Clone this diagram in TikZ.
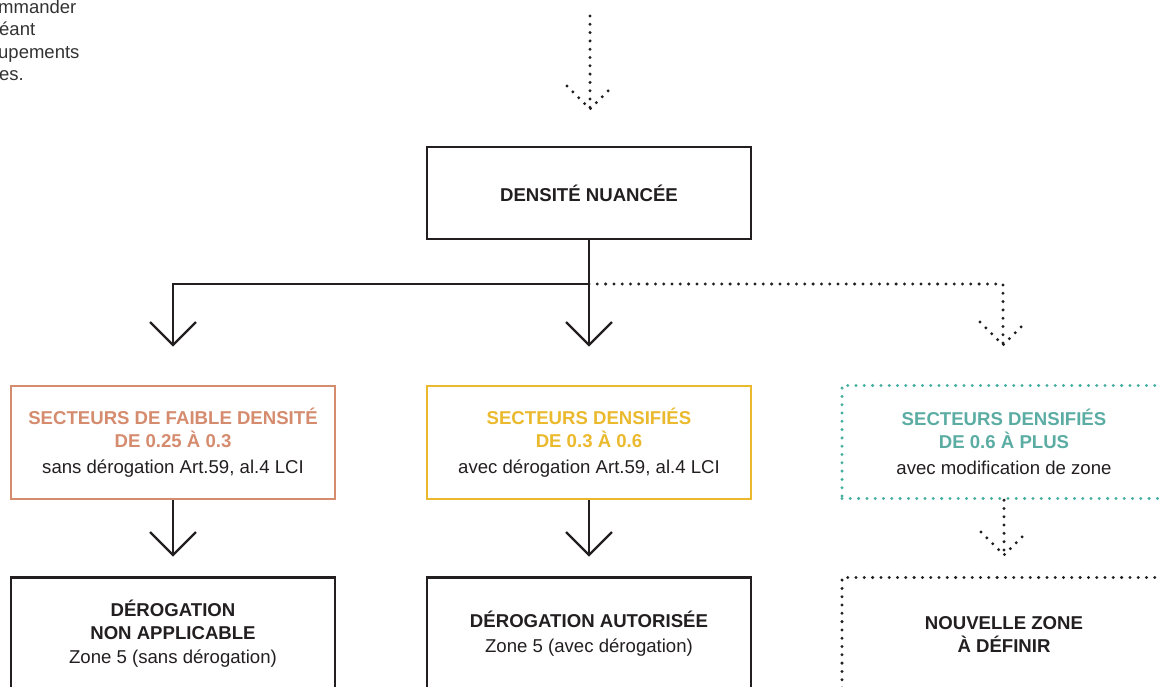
\documentclass[tikz,border=0pt]{standalone}
\usepackage{fontspec}
\setmainfont{Liberation Sans}
\definecolor{ink}{HTML}{231F20}
\definecolor{note}{HTML}{333333}
\definecolor{salmon}{HTML}{D58B6E}
\definecolor{gold}{HTML}{EAB92D}
\definecolor{tealdot}{HTML}{45AE9E}
\definecolor{tealtxt}{HTML}{5BACA3}
\tikzset{
  solidline/.style={draw=ink, line width=2.2pt},
  dotline/.style={draw=ink, line width=3.3pt, line cap=round, dash pattern=on 0pt off 8.3pt},
  box/.style={draw=ink, line width=2.2pt, minimum width=324pt, minimum height=113pt,
    inner sep=0pt, align=center, text=ink, font=\fontsize{18.6}{23}\selectfont},
  notetext/.style={anchor=base west, inner sep=0pt, text=note, font=\fontsize{18.5}{22}\selectfont},
  vhead/.pic={\draw (-23,-23) -- (0,0) -- (23,-23);}
}
\begin{document}
\begin{tikzpicture}[x=1pt,y=-1pt]
\useasboundingbox (0,0) rectangle (1160,686);
\clip (0,0) rectangle (1160,686);

% note text, cut at the left edge
\node[notetext] (n1) at (-2,13) {mmander};
\node[notetext] (n2) at (-1,35.5) {éant};
\node[notetext] (n3) at (-2,58) {upements};
\node[notetext] (n4) at (-1,80.5) {es.};

% boxes
\node[box, minimum height=92pt] (dn) at (589,193) {\textbf{DENSITÉ NUANCÉE}};

\node[box, draw=salmon, line width=2.5pt] (s1) at (173,442.5)
  {\textcolor{salmon}{\textbf{SECTEURS DE FAIBLE DENSITÉ}}\\
   \textcolor{salmon}{\textbf{DE 0.25 À 0.3}}\\[3pt]
   sans dérogation Art.59, al.4 LCI};
\node[box, draw=gold, line width=2.5pt] (s2) at (589,442.5)
  {\textcolor{gold}{\textbf{SECTEURS DENSIFIÉS}}\\
   \textcolor{gold}{\textbf{DE 0.3 À 0.6}}\\[3pt]
   avec dérogation Art.59, al.4 LCI};
\node[box, dotline, draw=tealdot] (s3) at (1004,442)
  {\textcolor{tealtxt}{\textbf{SECTEURS DENSIFIÉS}}\\
   \textcolor{tealtxt}{\textbf{DE 0.6 À PLUS}}\\[3pt]
   avec modification de zone};

\node[box] (r1) at (173,634)
  {\textbf{DÉROGATION}\\ \textbf{NON APPLICABLE}\\[1pt] Zone 5 (sans dérogation)};
\node[box] (r2) at (589,634)
  {\textbf{DÉROGATION AUTORISÉE}\\[2pt] Zone 5 (avec dérogation)};
\node[box, dotline] (r3) at (1004,634)
  {\textbf{NOUVELLE ZONE}\\ \textbf{À DÉFINIR}};

% coordinates for free ends
\coordinate (topstart) at (590,16);
\coordinate (toptip) at (590,109);
\coordinate (j) at (589,284);
\coordinate (t1) at (173,345);
\coordinate (t2) at (589,345);
\coordinate (t3) at (1003,345);
\coordinate (u1) at (173,555);
\coordinate (u2) at (589,555);
\coordinate (u3) at (1004,555);

% top incoming arrow
\draw[dotline] (topstart) -- (toptip);
\pic[dotline] at (toptip) {vhead};

% branches from DENSITÉ NUANCÉE
\draw[dotline] (j) -| (t3);
\pic[dotline] at (t3) {vhead};
\draw[solidline] (dn.south) -- (t2);
\pic[solidline] at (t2) {vhead};
\draw[solidline] (j) -| (t1);
\pic[solidline] at (t1) {vhead};

% second level arrows
\draw[solidline] (s1.south) -- (u1);
\pic[solidline] at (u1) {vhead};
\draw[solidline] (s2.south) -- (u2);
\pic[solidline] at (u2) {vhead};
\draw[dotline] (s3.south) -- (u3);
\pic[dotline] at (u3) {vhead};
\end{tikzpicture}
\end{document}
